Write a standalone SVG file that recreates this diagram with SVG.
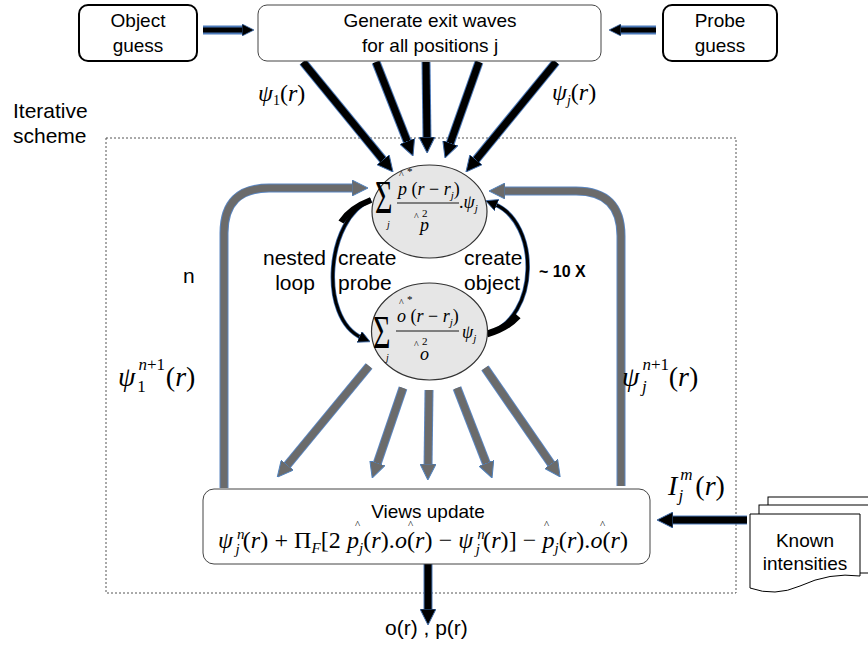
<svg xmlns="http://www.w3.org/2000/svg" width="868" height="648" viewBox="0 0 868 648">
<style>
.sans{font-family:"Liberation Sans",Arial,sans-serif;fill:#000}
.cal{font-family:"Liberation Sans",Arial,sans-serif;font-size:19px;fill:#000;text-anchor:middle}
.m{font-family:"Liberation Serif","Times New Roman",serif;font-style:italic;fill:#000}
.u{font-style:normal}
.box{fill:#fff;stroke:#000;stroke-width:2}
.thin{fill:#fff;stroke:#444;stroke-width:1}
.ell{fill:#e6e6e6;stroke:#333;stroke-width:1.2}
.blk{fill:none;stroke:#000;stroke-width:7}
.blkg{fill:none;stroke:#4a78b8;stroke-width:9}
.gry{fill:none;stroke:#6b6b6b;stroke-width:7}
.gryg{fill:none;stroke:#5a86c2;stroke-width:9}
.doc{fill:#fff;stroke:#000;stroke-width:1}
</style>
<defs>
<marker id="hb" viewBox="0 0 16 16" markerWidth="16" markerHeight="16" refX="4" refY="8" orient="auto" markerUnits="userSpaceOnUse"><path d="M0,0 L16,8 L0,16 z" fill="#000" stroke="#3d6aa8" stroke-width="1"/></marker>
<marker id="hg" viewBox="0 0 16 16" markerWidth="16" markerHeight="16" refX="4" refY="8" orient="auto" markerUnits="userSpaceOnUse"><path d="M0,0 L16,8 L0,16 z" fill="#6b6b6b" stroke="#4f81bd" stroke-width="1"/></marker>
<marker id="hs" viewBox="0 0 12 12" markerWidth="12" markerHeight="12" refX="3" refY="6" orient="auto" markerUnits="userSpaceOnUse"><path d="M0,0 L12,6 L0,12 z" fill="#000" stroke="#3d6aa8" stroke-width="0.8"/></marker>
</defs>

<rect x="106" y="138" width="630" height="455" fill="none" stroke="#555" stroke-width="1" stroke-dasharray="2,2"/>
<text class="sans" x="13" y="118" font-size="21">Iterative</text>
<text class="sans" x="13" y="143" font-size="21">scheme</text>

<g id="connectors">
<line class="blkg" x1="203" y1="30" x2="245" y2="30" stroke-width="7"/>
<line x1="203" y1="30" x2="245" y2="30" stroke="#000" stroke-width="5" marker-end="url(#hs)"/>
<line class="blkg" x1="656" y1="30" x2="618" y2="30" stroke-width="7"/>
<line x1="656" y1="30" x2="618" y2="30" stroke="#000" stroke-width="5" marker-end="url(#hs)"/>
<line class="blkg" x1="303" y1="62" x2="385.4" y2="162.7"/>
<line class="blk" x1="303" y1="62" x2="385.4" y2="162.7" marker-end="url(#hb)"/>
<line class="blkg" x1="376" y1="62" x2="408.6" y2="144.8"/>
<line class="blk" x1="376" y1="62" x2="408.6" y2="144.8" marker-end="url(#hb)"/>
<line class="blkg" x1="426" y1="62" x2="427" y2="141"/>
<line class="blk" x1="426" y1="62" x2="427" y2="141" marker-end="url(#hb)"/>
<line class="blkg" x1="479" y1="62" x2="449" y2="146.7"/>
<line class="blk" x1="479" y1="62" x2="449" y2="146.7" marker-end="url(#hb)"/>
<line class="blkg" x1="556" y1="62" x2="473.6" y2="162.7"/>
<line class="blk" x1="556" y1="62" x2="473.6" y2="162.7" marker-end="url(#hb)"/>
<path class="gryg" d="M224,488 V233 Q224,188 269,188 H356"/>
<path class="gry" d="M224,488 V233 Q224,188 269,188 H356" marker-end="url(#hg)"/>
<path class="gryg" d="M621,486 V236 Q621,191 576,191 H501"/>
<path class="gry" d="M621,486 V236 Q621,191 576,191 H501" marker-end="url(#hg)"/>
<line class="gryg" x1="369" y1="366" x2="284.9" y2="468"/>
<line class="gry" x1="369" y1="366" x2="284.9" y2="468" marker-end="url(#hg)"/>
<line class="gryg" x1="403" y1="388" x2="376.1" y2="466.7"/>
<line class="gry" x1="403" y1="388" x2="376.1" y2="466.7" marker-end="url(#hg)"/>
<line class="gryg" x1="429" y1="390" x2="428" y2="468"/>
<line class="gry" x1="429" y1="390" x2="428" y2="468" marker-end="url(#hg)"/>
<line class="gryg" x1="457" y1="388" x2="487.7" y2="466.8"/>
<line class="gry" x1="457" y1="388" x2="487.7" y2="466.8" marker-end="url(#hg)"/>
<line class="gryg" x1="485" y1="368" x2="553.3" y2="467"/>
<line class="gry" x1="485" y1="368" x2="553.3" y2="467" marker-end="url(#hg)"/>
<path d="M371,200 C326,218 318,318 362,338" fill="none" stroke="#3d6aa8" stroke-width="4.5"/>
<path d="M371,200 C326,218 318,318 362,338" fill="none" stroke="#000" stroke-width="3" marker-end="url(#hs)"/>
<path d="M371,200 Q350,208 341,222" fill="none" stroke="#000" stroke-width="6"/>
<path d="M487,334 C540,318 540,222 494,204" fill="none" stroke="#3d6aa8" stroke-width="4.5"/>
<path d="M487,334 C540,318 540,222 494,204" fill="none" stroke="#000" stroke-width="3" marker-end="url(#hs)"/>
<path d="M487,334 Q507,328 518,316" fill="none" stroke="#000" stroke-width="7"/>
<line class="blkg" x1="747" y1="520" x2="669" y2="520"/>
<line class="blk" x1="747" y1="520" x2="669" y2="520" marker-end="url(#hb)"/>
<line class="blkg" x1="428" y1="564" x2="428" y2="613"/>
<line class="blk" x1="428" y1="564" x2="428" y2="613" marker-end="url(#hb)"/>
</g>

<g id="object-guess">
<rect class="box" x="79" y="5" width="118" height="56" rx="9"/>
<text class="cal" x="138" y="27">Object</text>
<text class="cal" x="138" y="52">guess</text>
</g>

<g id="generate">
<rect class="thin" x="258" y="5" width="343" height="56" rx="9"/>
<text class="cal" x="430" y="27">Generate exit waves</text>
<text class="cal" x="430" y="52">for all positions j</text>
</g>

<g id="probe-guess">
<rect class="box" x="663" y="5" width="114" height="56" rx="9"/>
<text class="cal" x="720" y="27">Probe</text>
<text class="cal" x="720" y="52">guess</text>
</g>

<g id="labels">
<text class="m" x="258" y="101" font-size="24">ψ<tspan class="u" font-size="14" dy="4">1</tspan><tspan class="u" dy="-4">(</tspan>r<tspan class="u">)</tspan></text>
<text class="m" x="552" y="100" font-size="24">ψ<tspan font-size="14" dy="5">j</tspan><tspan class="u" dy="-5">(</tspan>r<tspan class="u">)</tspan></text>
<text class="m" x="118" y="386" font-size="28">ψ<tspan font-size="17" dx="3" dy="-16">n</tspan><tspan class="u" font-size="17">+1</tspan><tspan class="u" font-size="17" dx="-27" dy="22">1</tspan><tspan class="u" dx="20" dy="-6">(</tspan>r<tspan class="u">)</tspan></text>
<text class="m" x="622" y="386" font-size="28">ψ<tspan font-size="17" dx="3" dy="-16">n</tspan><tspan class="u" font-size="17">+1</tspan><tspan font-size="17" dx="-27" dy="22">j</tspan><tspan class="u" dx="22" dy="-6">(</tspan>r<tspan class="u">)</tspan></text>
<text class="m" x="668" y="495" font-size="28">I<tspan font-size="17" dx="3" dy="-15">m</tspan><tspan font-size="17" dx="-14" dy="21">j</tspan><tspan class="u" dx="12" dy="-6">(</tspan>r<tspan class="u">)</tspan></text>
<text class="sans" x="263" y="265" font-size="21">nested</text>
<text class="sans" x="295" y="290" font-size="21" text-anchor="middle">loop</text>
<text class="sans" x="338" y="265" font-size="21">create</text>
<text class="sans" x="338" y="290" font-size="21">probe</text>
<text class="sans" x="464" y="265" font-size="21">create</text>
<text class="sans" x="464" y="290" font-size="21">object</text>
<text class="sans" x="183" y="283" font-size="21">n</text>
<text class="sans" x="539" y="277" font-size="16" font-weight="bold">~ 10 X</text>
<text class="sans" x="385" y="635" font-size="21">o(r)  , p(r)</text>
</g>

<g id="probe-update">
<ellipse class="ell" cx="429.5" cy="211.5" rx="57.5" ry="46.5"/>
<text class="m u" transform="translate(375,213) scale(1,1.55)" font-size="30">Σ</text>
<text class="m" x="387" y="228" font-size="10">j</text>
<text class="u m" x="399" y="178" font-size="10">^</text>
<text class="u m" x="407" y="175" font-size="11">*</text>
<text class="m" x="398" y="195" font-size="18">p<tspan class="u"> (</tspan>r<tspan class="u"> − </tspan>r<tspan font-size="11" dy="4">j</tspan><tspan class="u" dy="-4">)</tspan></text>
<line x1="397" y1="203" x2="459" y2="203" stroke="#000" stroke-width="0.9"/>
<text class="u m" x="414" y="220" font-size="10">^</text>
<text class="u m" x="422" y="217" font-size="11">2</text>
<text class="m" x="420" y="231" font-size="18">p</text>
<text class="m" x="459" y="208" font-size="18"><tspan class="u">.</tspan>ψ<tspan font-size="11" dy="4">j</tspan></text>
</g>

<g id="object-update">
<ellipse class="ell" cx="429.5" cy="331.5" rx="58" ry="48.5"/>
<text class="m u" transform="translate(373,348) scale(1,1.55)" font-size="30">Σ</text>
<text class="m" x="386" y="361" font-size="10">j</text>
<text class="u m" x="399" y="306" font-size="10">^</text>
<text class="u m" x="407" y="303" font-size="11">*</text>
<text class="m" x="397" y="322" font-size="18">o<tspan class="u"> (</tspan>r<tspan class="u"> − </tspan>r<tspan font-size="11" dy="4">j</tspan><tspan class="u" dy="-4">)</tspan></text>
<line x1="396" y1="331" x2="459" y2="331" stroke="#000" stroke-width="0.9"/>
<text class="u m" x="414" y="348" font-size="10">^</text>
<text class="u m" x="422" y="345" font-size="11">2</text>
<text class="m" x="420" y="360" font-size="18">o</text>
<text class="m" x="462" y="338" font-size="18">ψ<tspan font-size="11" dy="4">j</tspan></text>
</g>

<g id="views-update">
<rect class="thin" x="203" y="489" width="447" height="75" rx="11"/>
<text class="cal" x="428" y="518">Views update</text>
<text class="m" x="218" y="548" font-size="24" textLength="410" lengthAdjust="spacing">ψ<tspan font-size="15" dx="4" dy="-9">n</tspan><tspan font-size="15" dx="-9" dy="15">j</tspan><tspan class="u" dx="3" dy="-6">(</tspan>r<tspan class="u">) + Π</tspan><tspan font-size="15" dy="5">F</tspan><tspan class="u" dy="-5">[2 </tspan>p<tspan font-size="15" dy="5">j</tspan><tspan class="u" dy="-5">(</tspan>r<tspan class="u">).</tspan>o<tspan class="u">(</tspan>r<tspan class="u">) − </tspan>ψ<tspan font-size="15" dx="4" dy="-9">n</tspan><tspan font-size="15" dx="-9" dy="15">j</tspan><tspan class="u" dx="3" dy="-6">(</tspan>r<tspan class="u">)] − </tspan>p<tspan font-size="15" dy="5">j</tspan><tspan class="u" dy="-5">(</tspan>r<tspan class="u">).</tspan>o<tspan class="u">(</tspan>r<tspan class="u">)</tspan></text>
<text class="u m" x="355" y="528" font-size="11">^</text>
<text class="u m" x="408" y="528" font-size="11">^</text>
<text class="u m" x="544" y="528" font-size="11">^</text>
<text class="u m" x="600" y="528" font-size="11">^</text>
</g>

<g id="known-intensities">
<rect class="doc" x="768" y="497" width="120" height="68"/>
<rect class="doc" x="759" y="505" width="120" height="68"/>
<path class="doc" d="M750,514 H860 V576 Q830,572 800,586 Q775,597 750,588 Z"/>
<text class="cal" x="805" y="547">Known</text>
<text class="cal" x="805" y="570">intensities</text>
</g>
</svg>
